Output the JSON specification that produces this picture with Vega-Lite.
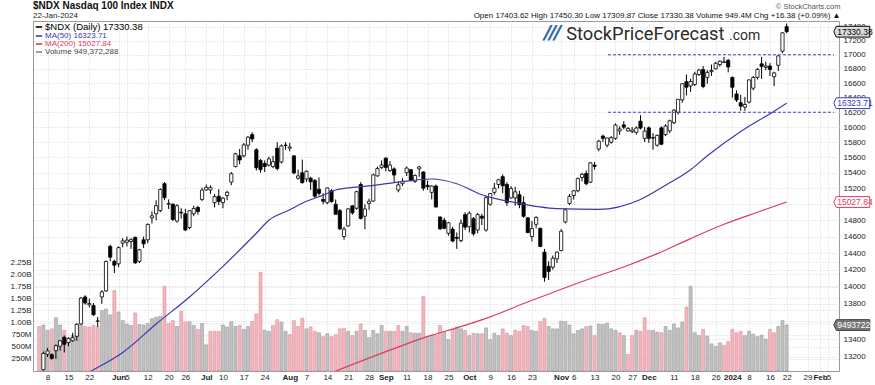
{
  "$schema": "https://vega.github.io/schema/vega-lite/v6.json",
  "width": 806,
  "height": 350,
  "autosize": {"type": "none"},
  "padding": {"left": 33, "top": 21, "right": 36, "bottom": 14},
  "background": "white",
  "config": {
    "font": "Liberation Sans",
    "view": {"stroke": "#9a9a9a", "strokeWidth": 1},
    "axis": {"labelFont": "Liberation Sans", "titleFont": "Liberation Sans", "labelColor": "#222222"}
  },
  "title": {
    "text": "$NDX Nasdaq 100 Index INDX",
    "subtitle": "22-Jan-2024",
    "anchor": "start",
    "frame": "group",
    "fontSize": 10,
    "fontWeight": "bold",
    "color": "#111111",
    "subtitleFontSize": 8,
    "subtitleColor": "#222222",
    "subtitlePadding": 1,
    "offset": 3,
    "dy": 21
  },
  "datasets": {
    "px": [
      {"d":"2023-05-04","o":12990,"h":13010,"l":12880,"c":12920,"v":920},
      {"d":"2023-05-05","o":13060,"h":13260,"l":13050,"c":13240,"v":950},
      {"d":"2023-05-08","o":13230,"h":13300,"l":13200,"c":13268,"v":840},
      {"d":"2023-05-09","o":13225,"h":13240,"l":13170,"c":13185,"v":870},
      {"d":"2023-05-10","o":13270,"h":13340,"l":13180,"c":13325,"v":1100},
      {"d":"2023-05-11","o":13320,"h":13390,"l":13270,"c":13380,"v":950},
      {"d":"2023-05-12","o":13420,"h":13440,"l":13250,"c":13340,"v":840,"m50":12900},
      {"d":"2023-05-15","o":13360,"h":13420,"l":13320,"c":13407,"v":660},
      {"d":"2023-05-16","o":13380,"h":13470,"l":13370,"c":13415,"v":730},
      {"d":"2023-05-17","o":13430,"h":13580,"l":13380,"c":13565,"v":800},
      {"d":"2023-05-18","o":13570,"h":13880,"l":13560,"c":13867,"v":950},
      {"d":"2023-05-19","o":13880,"h":13900,"l":13790,"c":13810,"v":920},
      {"d":"2023-05-22","o":13790,"h":13860,"l":13760,"c":13805,"v":910},
      {"d":"2023-05-23","o":13780,"h":13810,"l":13660,"c":13675,"v":940,"m50":13060},
      {"d":"2023-05-24","o":13600,"h":13650,"l":13540,"c":13604,"v":920},
      {"d":"2023-05-25","o":13880,"h":13960,"l":13800,"c":13939,"v":1250},
      {"d":"2023-05-26","o":13950,"h":14310,"l":13940,"c":14298,"v":1280},
      {"d":"2023-05-30","o":14480,"h":14500,"l":14300,"c":14350,"v":1160},
      {"d":"2023-05-31","o":14300,"h":14320,"l":14160,"c":14254,"v":1660},
      {"d":"2023-06-01","o":14270,"h":14480,"l":14230,"c":14465,"v":1220},
      {"d":"2023-06-02","o":14520,"h":14580,"l":14470,"c":14547,"v":1040,"m50":13250},
      {"d":"2023-06-05","o":14530,"h":14600,"l":14480,"c":14556,"v":970},
      {"d":"2023-06-06","o":14540,"h":14580,"l":14450,"c":14562,"v":940},
      {"d":"2023-06-07","o":14590,"h":14600,"l":14270,"c":14282,"v":1200},
      {"d":"2023-06-08","o":14300,"h":14450,"l":14280,"c":14439,"v":960},
      {"d":"2023-06-09","o":14560,"h":14600,"l":14460,"c":14511,"v":950},
      {"d":"2023-06-12","o":14560,"h":14760,"l":14520,"c":14749,"v":980},
      {"d":"2023-06-13","o":14830,"h":14910,"l":14760,"c":14855,"v":1080},
      {"d":"2023-06-14","o":14880,"h":15050,"l":14800,"c":14982,"v":1110,"m50":13570},
      {"d":"2023-06-15","o":14920,"h":15200,"l":14900,"c":15186,"v":1130},
      {"d":"2023-06-16","o":15260,"h":15280,"l":15050,"c":15083,"v":1750},
      {"d":"2023-06-20","o":15000,"h":15060,"l":14940,"c":15010,"v":980},
      {"d":"2023-06-21","o":15000,"h":15010,"l":14790,"c":14811,"v":1040},
      {"d":"2023-06-22","o":14790,"h":15000,"l":14770,"c":14981,"v":920},
      {"d":"2023-06-23","o":14900,"h":14950,"l":14820,"c":14892,"v":1230},
      {"d":"2023-06-26","o":14880,"h":14940,"l":14670,"c":14680,"v":1010},
      {"d":"2023-06-27","o":14710,"h":14925,"l":14690,"c":14919,"v":1020,"m50":13880},
      {"d":"2023-06-28","o":14880,"h":14980,"l":14850,"c":14947,"v":940},
      {"d":"2023-06-29","o":14960,"h":14980,"l":14870,"c":14908,"v":860},
      {"d":"2023-06-30","o":15060,"h":15210,"l":15040,"c":15179,"v":980},
      {"d":"2023-07-03","o":15180,"h":15250,"l":15170,"c":15214,"v":540},
      {"d":"2023-07-05","o":15180,"h":15240,"l":15130,"c":15210,"v":820},
      {"d":"2023-07-06","o":15020,"h":15130,"l":14960,"c":15096,"v":820},
      {"d":"2023-07-07","o":15100,"h":15190,"l":14990,"c":15035,"v":820},
      {"d":"2023-07-10","o":15020,"h":15090,"l":14950,"c":15076,"v":950,"m50":14240},
      {"d":"2023-07-11","o":15110,"h":15170,"l":15050,"c":15150,"v":910},
      {"d":"2023-07-12","o":15280,"h":15410,"l":15240,"c":15388,"v":1020},
      {"d":"2023-07-13","o":15480,"h":15660,"l":15470,"c":15648,"v":920},
      {"d":"2023-07-14","o":15620,"h":15710,"l":15510,"c":15566,"v":940},
      {"d":"2023-07-17","o":15620,"h":15790,"l":15600,"c":15764,"v":860},
      {"d":"2023-07-18","o":15760,"h":15880,"l":15700,"c":15866,"v":920},
      {"d":"2023-07-19","o":15900,"h":15932,"l":15800,"c":15842,"v":1020},
      {"d":"2023-07-20","o":15700,"h":15720,"l":15430,"c":15465,"v":1180,"m50":14640},
      {"d":"2023-07-21","o":15560,"h":15580,"l":15400,"c":15440,"v":2040},
      {"d":"2023-07-24","o":15520,"h":15560,"l":15410,"c":15480,"v":840},
      {"d":"2023-07-25","o":15500,"h":15610,"l":15480,"c":15580,"v":820,"m50":14800},
      {"d":"2023-07-26","o":15480,"h":15620,"l":15460,"c":15544,"v":940},
      {"d":"2023-07-27","o":15720,"h":15800,"l":15430,"c":15456,"v":1060},
      {"d":"2023-07-28","o":15540,"h":15770,"l":15520,"c":15750,"v":1010},
      {"d":"2023-07-31","o":15760,"h":15800,"l":15700,"c":15757,"v":820},
      {"d":"2023-08-01","o":15720,"h":15790,"l":15680,"c":15736,"v":750,"m50":14930},
      {"d":"2023-08-02","o":15620,"h":15630,"l":15380,"c":15398,"v":1040},
      {"d":"2023-08-03","o":15330,"h":15440,"l":15310,"c":15360,"v":920},
      {"d":"2023-08-04","o":15400,"h":15570,"l":15260,"c":15274,"v":1090,"m50":15013,"m200":12900},
      {"d":"2023-08-07","o":15320,"h":15430,"l":15280,"c":15419,"v":870},
      {"d":"2023-08-08","o":15330,"h":15350,"l":15180,"c":15284,"v":910},
      {"d":"2023-08-09","o":15300,"h":15320,"l":15080,"c":15101,"v":820},
      {"d":"2023-08-10","o":15190,"h":15340,"l":15110,"c":15137,"v":790},
      {"d":"2023-08-11","o":15060,"h":15140,"l":15000,"c":15037,"v":710,"m50":15115},
      {"d":"2023-08-14","o":15020,"h":15210,"l":15000,"c":15206,"v":770},
      {"d":"2023-08-15","o":15170,"h":15190,"l":15020,"c":15033,"v":710},
      {"d":"2023-08-16","o":15000,"h":15060,"l":14870,"c":14874,"v":750,"m50":15180,"m200":13045},
      {"d":"2023-08-17","o":14920,"h":14940,"l":14680,"c":14694,"v":870},
      {"d":"2023-08-18","o":14600,"h":14720,"l":14560,"c":14690,"v":880},
      {"d":"2023-08-21","o":14730,"h":14950,"l":14720,"c":14942,"v":820},
      {"d":"2023-08-22","o":14980,"h":14990,"l":14870,"c":14892,"v":730,"m50":15212},
      {"d":"2023-08-23","o":14950,"h":15170,"l":14930,"c":15158,"v":820},
      {"d":"2023-08-24","o":15250,"h":15280,"l":14810,"c":14823,"v":970},
      {"d":"2023-08-25","o":14850,"h":15000,"l":14690,"c":14941,"v":840},
      {"d":"2023-08-28","o":15010,"h":15070,"l":14930,"c":15037,"v":690,"m50":15232},
      {"d":"2023-08-29","o":15040,"h":15390,"l":15030,"c":15373,"v":840},
      {"d":"2023-08-30","o":15360,"h":15480,"l":15350,"c":15455,"v":770},
      {"d":"2023-08-31","o":15470,"h":15560,"l":15450,"c":15501,"v":940},
      {"d":"2023-09-01","o":15590,"h":15600,"l":15420,"c":15469,"v":820},
      {"d":"2023-09-05","o":15430,"h":15550,"l":15410,"c":15500,"v":820,"m200":13276},
      {"d":"2023-09-06","o":15450,"h":15470,"l":15280,"c":15371,"v":820},
      {"d":"2023-09-07","o":15180,"h":15290,"l":15150,"c":15245,"v":940,"m50":15280},
      {"d":"2023-09-08","o":15260,"h":15330,"l":15230,"c":15290,"v":820},
      {"d":"2023-09-11","o":15400,"h":15480,"l":15360,"c":15461,"v":920},
      {"d":"2023-09-12","o":15440,"h":15450,"l":15290,"c":15300,"v":790},
      {"d":"2023-09-13","o":15290,"h":15380,"l":15270,"c":15366,"v":780},
      {"d":"2023-09-14","o":15450,"h":15490,"l":15350,"c":15475,"v":780},
      {"d":"2023-09-15","o":15410,"h":15420,"l":15170,"c":15203,"v":1540},
      {"d":"2023-09-18","o":15240,"h":15300,"l":15180,"c":15222,"v":710},
      {"d":"2023-09-19","o":15150,"h":15240,"l":15060,"c":15230,"v":730,"m50":15320,"m200":13443},
      {"d":"2023-09-20","o":15230,"h":15250,"l":14960,"c":14965,"v":740},
      {"d":"2023-09-21","o":14840,"h":14850,"l":14680,"c":14695,"v":940},
      {"d":"2023-09-22","o":14800,"h":14830,"l":14690,"c":14701,"v":800},
      {"d":"2023-09-25","o":14640,"h":14780,"l":14610,"c":14769,"v":650},
      {"d":"2023-09-26","o":14690,"h":14720,"l":14530,"c":14545,"v":860},
      {"d":"2023-09-27","o":14590,"h":14650,"l":14450,"c":14578,"v":910,"m50":15260,"m200":13525},
      {"d":"2023-09-28","o":14550,"h":14810,"l":14530,"c":14765,"v":870},
      {"d":"2023-09-29","o":14870,"h":14900,"l":14680,"c":14715,"v":840},
      {"d":"2023-10-02","o":14720,"h":14910,"l":14650,"c":14888,"v":730},
      {"d":"2023-10-03","o":14820,"h":14840,"l":14610,"c":14634,"v":780},
      {"d":"2023-10-04","o":14680,"h":14890,"l":14640,"c":14870,"v":770},
      {"d":"2023-10-05","o":14850,"h":14880,"l":14740,"c":14826,"v":770,"m50":15120},
      {"d":"2023-10-06","o":14680,"h":15110,"l":14660,"c":15082,"v":890},
      {"d":"2023-10-09","o":15000,"h":15140,"l":14980,"c":15135,"v":650,"m200":13650},
      {"d":"2023-10-10","o":15150,"h":15270,"l":15120,"c":15203,"v":780},
      {"d":"2023-10-11","o":15250,"h":15320,"l":15200,"c":15311,"v":730},
      {"d":"2023-10-12","o":15350,"h":15380,"l":15140,"c":15233,"v":870},
      {"d":"2023-10-13","o":15250,"h":15280,"l":14980,"c":15020,"v":780},
      {"d":"2023-10-16","o":15080,"h":15230,"l":15070,"c":15198,"v":730},
      {"d":"2023-10-17","o":15080,"h":15220,"l":14980,"c":15156,"v":840,"m50":15020},
      {"d":"2023-10-18","o":15120,"h":15170,"l":14950,"c":14994,"v":820},
      {"d":"2023-10-19","o":15020,"h":15100,"l":14830,"c":14849,"v":940,"m200":13804},
      {"d":"2023-10-20","o":14830,"h":14840,"l":14640,"c":14649,"v":920},
      {"d":"2023-10-23","o":14600,"h":14790,"l":14540,"c":14697,"v":840},
      {"d":"2023-10-24","o":14750,"h":14850,"l":14700,"c":14835,"v":820},
      {"d":"2023-10-25","o":14700,"h":14710,"l":14470,"c":14480,"v":1020},
      {"d":"2023-10-26","o":14410,"h":14450,"l":14058,"c":14109,"v":1090},
      {"d":"2023-10-27","o":14240,"h":14300,"l":14080,"c":14180,"v":920},
      {"d":"2023-10-30","o":14230,"h":14370,"l":14200,"c":14337,"v":870,"m200":13932},
      {"d":"2023-10-31","o":14330,"h":14420,"l":14280,"c":14410,"v":870,"m50":14945},
      {"d":"2023-11-01","o":14430,"h":14690,"l":14420,"c":14665,"v":1030},
      {"d":"2023-11-02","o":14780,"h":14950,"l":14760,"c":14931,"v":1020},
      {"d":"2023-11-03","o":15010,"h":15130,"l":14990,"c":15099,"v":950},
      {"d":"2023-11-06","o":15110,"h":15180,"l":15060,"c":15170,"v":770},
      {"d":"2023-11-07","o":15170,"h":15340,"l":15150,"c":15326,"v":840},
      {"d":"2023-11-08","o":15340,"h":15400,"l":15290,"c":15380,"v":870},
      {"d":"2023-11-09","o":15390,"h":15430,"l":15240,"c":15260,"v":920},
      {"d":"2023-11-10","o":15280,"h":15540,"l":15270,"c":15529,"v":930,"m200":14096},
      {"d":"2023-11-13","o":15500,"h":15540,"l":15440,"c":15482,"v":730},
      {"d":"2023-11-14","o":15710,"h":15830,"l":15680,"c":15813,"v":970,"m50":14935},
      {"d":"2023-11-15","o":15880,"h":15900,"l":15800,"c":15850,"v":960},
      {"d":"2023-11-16","o":15760,"h":15860,"l":15730,"c":15855,"v":990},
      {"d":"2023-11-17","o":15800,"h":15880,"l":15780,"c":15860,"v":870},
      {"d":"2023-11-20","o":15850,"h":16050,"l":15830,"c":16028,"v":840},
      {"d":"2023-11-21","o":15950,"h":16010,"l":15900,"c":15975,"v":790},
      {"d":"2023-11-22","o":16030,"h":16080,"l":15970,"c":15999,"v":730,"m200":14233},
      {"d":"2023-11-24","o":15950,"h":16000,"l":15940,"c":15982,"v":340},
      {"d":"2023-11-27","o":15940,"h":16000,"l":15920,"c":15961,"v":730},
      {"d":"2023-11-28","o":15930,"h":16010,"l":15900,"c":15988,"v":840},
      {"d":"2023-11-29","o":16080,"h":16160,"l":15970,"c":15987,"v":820,"m50":15060},
      {"d":"2023-11-30","o":15850,"h":16000,"l":15800,"c":15947,"v":1100},
      {"d":"2023-12-01","o":15990,"h":16010,"l":15790,"c":15850,"v":840},
      {"d":"2023-12-04","o":15860,"h":15920,"l":15700,"c":15855,"v":840},
      {"d":"2023-12-05","o":15760,"h":15900,"l":15740,"c":15889,"v":800,"m200":14393},
      {"d":"2023-12-06","o":15990,"h":16010,"l":15760,"c":15773,"v":790},
      {"d":"2023-12-07","o":15900,"h":16040,"l":15880,"c":16014,"v":920,"m50":15240},
      {"d":"2023-12-08","o":15950,"h":16100,"l":15920,"c":16085,"v":840},
      {"d":"2023-12-11","o":16060,"h":16240,"l":16040,"c":16229,"v":970},
      {"d":"2023-12-12","o":16200,"h":16380,"l":16170,"c":16376,"v":890},
      {"d":"2023-12-13","o":16370,"h":16600,"l":16330,"c":16591,"v":1010},
      {"d":"2023-12-14","o":16620,"h":16720,"l":16430,"c":16543,"v":1320},
      {"d":"2023-12-15","o":16560,"h":16660,"l":16480,"c":16623,"v":1750,"m50":15440,"m200":14575},
      {"d":"2023-12-18","o":16580,"h":16760,"l":16560,"c":16727,"v":790},
      {"d":"2023-12-19","o":16720,"h":16800,"l":16700,"c":16782,"v":730},
      {"d":"2023-12-20","o":16790,"h":16840,"l":16530,"c":16553,"v":860},
      {"d":"2023-12-21","o":16680,"h":16780,"l":16590,"c":16750,"v":720,"m50":15620},
      {"d":"2023-12-22","o":16760,"h":16860,"l":16700,"c":16777,"v":560},
      {"d":"2023-12-26","o":16800,"h":16900,"l":16790,"c":16878,"v":510},
      {"d":"2023-12-27","o":16860,"h":16920,"l":16830,"c":16906,"v":580},
      {"d":"2023-12-28","o":16890,"h":16970,"l":16880,"c":16898,"v":530,"m200":14750},
      {"d":"2023-12-29","o":16920,"h":16940,"l":16750,"c":16826,"v":610},
      {"d":"2024-01-02","o":16680,"h":16690,"l":16400,"c":16543,"v":860},
      {"d":"2024-01-03","o":16450,"h":16500,"l":16340,"c":16368,"v":790},
      {"d":"2024-01-04","o":16330,"h":16440,"l":16220,"c":16283,"v":820,"m50":15940},
      {"d":"2024-01-05","o":16270,"h":16410,"l":16220,"c":16306,"v":730},
      {"d":"2024-01-08","o":16340,"h":16650,"l":16320,"c":16645,"v":820},
      {"d":"2024-01-09","o":16530,"h":16700,"l":16500,"c":16679,"v":760},
      {"d":"2024-01-10","o":16680,"h":16810,"l":16650,"c":16792,"v":710,"m200":14900},
      {"d":"2024-01-11","o":16870,"h":16970,"l":16660,"c":16834,"v":740},
      {"d":"2024-01-12","o":16820,"h":16900,"l":16780,"c":16840,"v":660},
      {"d":"2024-01-16","o":16840,"h":16880,"l":16700,"c":16790,"v":860},
      {"d":"2024-01-17","o":16690,"h":16760,"l":16560,"c":16743,"v":790,"m50":16215},
      {"d":"2024-01-18","o":16850,"h":16990,"l":16770,"c":16983,"v":920},
      {"d":"2024-01-19","o":17050,"h":17320,"l":17020,"c":17314,"v":1040},
      {"d":"2024-01-22","o":17403.62,"h":17450.3,"l":17309.87,"c":17330.38,"v":949.372288,"m50":16323.71,"m200":15027.84}
    ],
    "lv": [
      {"p": 17000, "a": 137.2, "b": 191.34},
      {"p": 16200, "a": 137.2, "b": 191.34}
    ]
  },
  "data": {"name": "px"},
  "transform": [
    {"window": [{"op": "row_number", "as": "n"}, {"op": "lag", "field": "c", "as": "pc"}], "sort": [{"field": "d", "order": "ascending"}]}
  ],
  "layer": [
    {
      "layer": [
        {
          "mark": {"type": "bar", "width": 3, "strokeWidth": 0.6},
          "encoding": {
            "x": {"field": "n", "type": "quantitative", "scale": {"domain": [0.71, 191.34], "nice": false, "zero": false},
              "axis": {"orient": "top", "labels": false, "ticks": false, "domain": false, "grid": false,
                "title": "Open 17403.62  High 17450.30  Low 17309.87  Close 17330.38  Volume 949.4M  Chg +16.38 (+0.09%) ▲",
                "titleFontSize": 8, "titleFontWeight": "normal", "titleColor": "#111111", "titleAlign": "right", "titleAnchor": "end", "titleX": 807, "titleY": -4, "titleBaseline": "alphabetic"}},
            "y": {"field": "v", "type": "quantitative", "scale": {"domain": [0, 7230], "nice": false, "zero": true},
              "axis": {"orient": "left", "values": [250, 500, 750, 1000, 1250, 1500, 1750, 2000, 2250], "tickCount": 100,
                "labelExpr": "datum.value >= 1000 ? format(datum.value / 1000, '.2f') + 'B' : datum.value + 'M'",
                "grid": true, "gridDash": [1, 2], "gridColor": "#d4d4d4", "ticks": false, "domain": false, "labelFontSize": 8, "labelPadding": 2, "title": null}},
            "fill": {"condition": {"test": "!isValid(datum.pc) || datum.c < datum.pc", "value": "#f2b6be"}, "value": "#c2c2c2"},
            "stroke": {"condition": {"test": "!isValid(datum.pc) || datum.c < datum.pc", "value": "#e08e9b"}, "value": "#999999"}
          }
        },
        {
          "transform": [{"filter": "datum.d == '2024-01-22'"}],
          "mark": {"type": "point", "shape": "M-1,0L-0.86,-0.3L1,-0.3L1,0.3L-0.86,0.3Z", "size": 1296, "filled": true, "fill": "#777777", "stroke": "#444444", "strokeWidth": 1, "opacity": 1, "clip": false},
          "encoding": {
            "x": {"datum": 195.6, "type": "quantitative", "scale": {"domain": [0.71, 191.34], "nice": false, "zero": false}},
            "y": {"field": "v", "type": "quantitative", "scale": {"domain": [0, 7230], "nice": false, "zero": true}}
          }
        },
        {
          "transform": [{"filter": "datum.d == '2024-01-22'"}],
          "mark": {"type": "text", "fontSize": 8.5, "align": "left", "baseline": "middle", "color": "#ffffff", "clip": false, "text": "949372288"},
          "encoding": {
            "x": {"datum": 192.1, "type": "quantitative", "scale": {"domain": [0.71, 191.34], "nice": false, "zero": false}},
            "y": {"field": "v", "type": "quantitative", "scale": {"domain": [0, 7230], "nice": false, "zero": true}}
          }
        }
      ]
    },
    {
      "layer": [
        {
          "mark": {"type": "rule", "color": "#000000", "strokeWidth": 1, "clip": true},
          "encoding": {
            "x": {"field": "n", "type": "quantitative", "scale": {"domain": [0.71, 191.34], "nice": false, "zero": false},
              "axis": {"orient": "bottom", "values": [3,8,13,20,22,27,32,36,41,45,50,55,61,65,70,75,80,84,89,94,99,104,109,114,119,126,129,134,139,143,147,153,158,163,167,171,176,180,185,188,190], "tickCount": 200,
                "labelExpr": "['8','15','22','Jun','5','12','20','26','Jul','10','17','24','Aug','7','14','21','28','Sep','11','18','25','Oct','9','16','23','Nov','6','13','20','27','Dec','11','18','26','2024','8','16','22','29','Feb','5'][indexof([3,8,13,20,22,27,32,36,41,45,50,55,61,65,70,75,80,84,89,94,99,104,109,114,119,126,129,134,139,143,147,153,158,163,167,171,176,180,185,188,190], datum.value)]",
                "labelFontWeight": {"condition": {"test": "indexof([20,41,61,84,104,126,147,167,188], datum.value) >= 0", "value": "bold"}, "value": "normal"},
                "labelOverlap": false, "labelFlush": false, "labelBound": false,
                "grid": true, "gridDash": [1, 2], "gridColor": "#d4d4d4", "ticks": false, "domain": false, "labelFontSize": 8, "labelPadding": 2, "title": null}},
            "y": {"field": "l", "type": "quantitative", "scale": {"type": "log", "domain": [13046, 17486], "nice": false},
              "axis": {"orient": "right", "values": [13200,13400,13600,13800,14000,14200,14400,14600,14800,15000,15200,15400,15600,15800,16000,16200,16400,16600,16800,17000,17200,17400], "tickCount": 100,
                "format": "d", "grid": true, "gridDash": [1, 2], "gridColor": "#d4d4d4", "ticks": false, "domain": false, "labelFontSize": 8, "labelPadding": 4, "labelOverlap": false,
                "title": "© StockCharts.com", "titleAngle": 0, "titleX": 1, "titleY": -13, "titleAlign": "right", "titleAnchor": null, "titleBaseline": "alphabetic", "titleFontSize": 7.5, "titleFontWeight": "normal", "titleColor": "#555555"}},
            "y2": {"field": "h"}
          }
        },
        {
          "mark": {"type": "bar", "width": 3.2, "stroke": "#000000", "strokeWidth": 0.8, "clip": true},
          "encoding": {
            "x": {"field": "n", "type": "quantitative", "scale": {"domain": [0.71, 191.34], "nice": false, "zero": false}},
            "y": {"field": "o", "type": "quantitative", "scale": {"type": "log", "domain": [13046, 17486], "nice": false}},
            "y2": {"field": "c"},
            "fill": {"condition": {"test": "datum.c < datum.o", "value": "#000000"}, "value": "#ffffff"}
          }
        },
        {
          "transform": [{"filter": "isValid(datum.m50)"}],
          "mark": {"type": "line", "strokeWidth": 1.2, "clip": true, "interpolate": "monotone"},
          "encoding": {
            "x": {"field": "n", "type": "quantitative", "scale": {"domain": [0.71, 191.34], "nice": false, "zero": false}},
            "y": {"field": "m50", "type": "quantitative", "scale": {"type": "log", "domain": [13046, 17486], "nice": false}},
            "color": {"datum": "MA(50) 16323.71", "type": "nominal",
              "scale": {"domain": ["$NDX (Daily) 17330.38", "MA(50) 16323.71", "MA(200) 15027.84", "Volume 949,372,288"], "range": ["#000000", "#3a3aad", "#e03c5c", "#888888"]},
              "legend": {"title": null, "orient": "top-left", "offset": 2, "padding": 0, "rowPadding": 0, "labelFontSize": 8, "labelOffset": 2, "labelLimit": 300,
                "symbolType": "stroke", "symbolSize": 40, "symbolStrokeWidth": 1.6,
                "encode": {"labels": {"update": {"fill": {"signal": "datum.index == 1 ? '#3a3aad' : datum.index == 2 ? '#e03c5c' : datum.index == 3 ? '#444444' : '#000000'"}, "fontSize": {"signal": "datum.index == 0 ? 9.5 : 8"}}}}}}
          }
        },
        {
          "transform": [{"filter": "isValid(datum.m200)"}],
          "mark": {"type": "line", "strokeWidth": 1.2, "clip": true, "interpolate": "monotone"},
          "encoding": {
            "x": {"field": "n", "type": "quantitative", "scale": {"domain": [0.71, 191.34], "nice": false, "zero": false}},
            "y": {"field": "m200", "type": "quantitative", "scale": {"type": "log", "domain": [13046, 17486], "nice": false}},
            "color": {"datum": "MA(200) 15027.84", "type": "nominal"}
          }
        },
        {
          "data": {"name": "lv"},
          "mark": {"type": "rule", "color": "#3b3bdc", "strokeWidth": 1.1, "strokeDash": [3, 2]},
          "encoding": {
            "x": {"field": "a", "type": "quantitative", "scale": {"domain": [0.71, 191.34], "nice": false, "zero": false}},
            "x2": {"field": "b"},
            "y": {"field": "p", "type": "quantitative", "scale": {"type": "log", "domain": [13046, 17486], "nice": false}}
          }
        },
        {
          "data": {"values": [{"w": "///", "n": 121.8, "p": 17217}]},
          "mark": {"type": "text", "font": "Roboto", "fontSize": 21, "fontWeight": "bold", "fontStyle": "italic", "color": "#2d67ad", "align": "left", "baseline": "alphabetic"},
          "encoding": {
            "x": {"field": "n", "type": "quantitative", "scale": {"domain": [0.71, 191.34], "nice": false, "zero": false}},
            "y": {"field": "p", "type": "quantitative", "scale": {"type": "log", "domain": [13046, 17486], "nice": false}},
            "text": {"field": "w"}
          }
        },
        {
          "data": {"values": [{"w": "StockPriceForecast", "n": 127.2, "p": 17217}]},
          "mark": {"type": "text", "font": "Roboto", "fontSize": 18.3, "color": "#2b2b2b", "align": "left", "baseline": "alphabetic"},
          "encoding": {
            "x": {"field": "n", "type": "quantitative", "scale": {"domain": [0.71, 191.34], "nice": false, "zero": false}},
            "y": {"field": "p", "type": "quantitative", "scale": {"type": "log", "domain": [13046, 17486], "nice": false}},
            "text": {"field": "w"}
          }
        },
        {
          "data": {"values": [{"w": ".com", "n": 166.2, "p": 17217}]},
          "mark": {"type": "text", "font": "Roboto", "fontSize": 14, "color": "#2b2b2b", "align": "left", "baseline": "alphabetic"},
          "encoding": {
            "x": {"field": "n", "type": "quantitative", "scale": {"domain": [0.71, 191.34], "nice": false, "zero": false}},
            "y": {"field": "p", "type": "quantitative", "scale": {"type": "log", "domain": [13046, 17486], "nice": false}},
            "text": {"field": "w"}
          }
        },
        {
          "transform": [{"filter": "datum.d == '2024-01-22'"}, {"fold": ["c", "m50", "m200"], "as": ["k", "val"]}],
          "mark": {"type": "point", "shape": "M-1,0L-0.86,-0.3L1,-0.3L1,0.3L-0.86,0.3Z", "size": 1296, "filled": true, "strokeWidth": 1, "opacity": 1, "clip": false},
          "encoding": {
            "x": {"datum": 195.6, "type": "quantitative", "scale": {"domain": [0.71, 191.34], "nice": false, "zero": false}},
            "y": {"field": "val", "type": "quantitative", "scale": {"type": "log", "domain": [13046, 17486], "nice": false}},
            "fill": {"condition": {"test": "datum.k == 'c'", "value": "#dddddd"}, "value": "#ffffff"},
            "stroke": {"condition": [{"test": "datum.k == 'c'", "value": "#000000"}, {"test": "datum.k == 'm50'", "value": "#3a3aad"}], "value": "#e03c5c"}
          }
        },
        {
          "transform": [{"filter": "datum.d == '2024-01-22'"}, {"fold": ["c", "m50", "m200"], "as": ["k", "val"]}],
          "mark": {"type": "text", "fontSize": 8.5, "align": "left", "baseline": "middle", "clip": false},
          "encoding": {
            "x": {"datum": 192.1, "type": "quantitative", "scale": {"domain": [0.71, 191.34], "nice": false, "zero": false}},
            "y": {"field": "val", "type": "quantitative", "scale": {"type": "log", "domain": [13046, 17486], "nice": false}},
            "text": {"field": "val", "format": ".2f"},
            "fontWeight": {"condition": {"test": "datum.k == 'c'", "value": "bold"}, "value": "normal"},
            "color": {"condition": [{"test": "datum.k == 'c'", "value": "#000000"}, {"test": "datum.k == 'm50'", "value": "#3a3aad"}], "value": "#e03c5c"}
          }
        }
      ]
    }
  ],
  "resolve": {"scale": {"y": "independent", "color": "independent"}, "axis": {"x": "independent", "y": "independent"}}
}
